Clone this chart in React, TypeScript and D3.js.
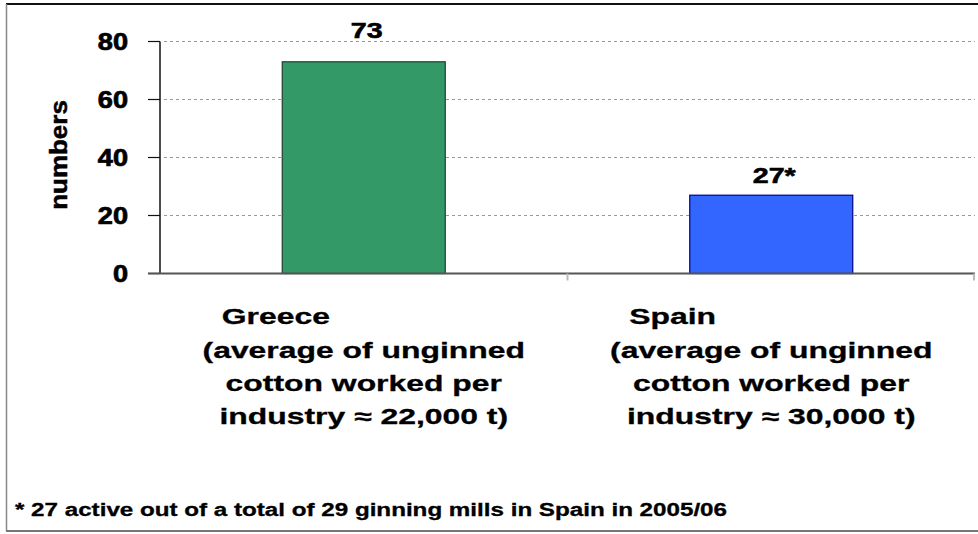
import React from "react";
import * as d3 from "d3";

const categories = ["Greece", "Spain"];
const values = [73, 27];
const valueLabels = ["73", "27*"];
const categoryNotes = [
  ["(average of unginned", "cotton worked per", "industry \u2248 22,000 t)"],
  ["(average of unginned", "cotton worked per", "industry \u2248 30,000 t)"],
];
const yTicks = [0, 20, 40, 60, 80];
const yTitle = "numbers";
const footnote = "* 27 active out of a total of 29 ginning mills in Spain in 2005/06";

const W = 978;
const H = 534;
const FONT = "'Liberation Sans', Arial, Helvetica, sans-serif";
const barColors = ["#339966", "#3366FF"];
const barStrokes = ["#1f3d2c", "#000080"];
const labelGap = [24, 12];

function SText({ x, y, sx = 1, size, anchor = "start", rotate = 0, children, fill = "#000", heavy = 0 }: any) {
  return (
    <text
      transform={`translate(${x},${y}) rotate(${rotate}) scale(${sx},1)`}
      fontFamily={FONT}
      fontWeight="bold"
      fontSize={size}
      textAnchor={anchor}
      fill={fill}
      stroke={heavy ? fill : "none"}
      strokeWidth={heavy}
    >
      {children}
    </text>
  );
}

export default function App() {
  const x0 = 160;
  const x1 = 975;
  const y = d3.scaleLinear().domain([0, 80]).range([273.5, 41.5]);
  const x = d3
    .scaleBand<string>()
    .domain(categories)
    .range([x0, x1])
    .paddingInner(0.6)
    .paddingOuter(0.3);
  const step = x.step();

  return (
    <svg
      width={W}
      height={H}
      style={{ position: "absolute", left: 0, top: 0, background: "#fff" }}
    >
      <rect x={0} y={0} width={W} height={H} fill="#fff" />
      {/* frame */}
      <line x1={6} x2={W} y1={4} y2={4} stroke="#111" strokeWidth={2} />
      <line x1={6.5} x2={6.5} y1={4} y2={531} stroke="#888" strokeWidth={1.5} />
      <line x1={6} x2={W} y1={531} y2={531} stroke="#777" strokeWidth={2} />

      {/* gridlines */}
      {yTicks
        .filter((t) => t !== 0)
        .map((t) => (
          <line
            key={"g" + t}
            x1={x0 + 4}
            x2={x1}
            y1={y(t)}
            y2={y(t)}
            stroke="#999"
            strokeWidth={1}
            strokeDasharray="3,3"
          />
        ))}

      {/* bars */}
      {categories.map((c, i) => (
        <rect
          key={c}
          x={x(c)}
          y={y(values[i])}
          width={x.bandwidth()}
          height={y(0) - y(values[i])}
          fill={barColors[i]}
          stroke={barStrokes[i]}
          strokeWidth={1.2}
        />
      ))}

      {/* value labels */}
      {categories.map((c, i) => (
        <SText
          key={"v" + c}
          x={(x(c) as number) + x.bandwidth() / 2 + 3}
          y={y(values[i]) - labelGap[i]}
          sx={1.3}
          size={22}
          anchor="middle"
          heavy={0.6}
        >
          {valueLabels[i]}
        </SText>
      ))}

      {/* y axis */}
      <line x1={x0} x2={x0} y1={y(80)} y2={y(0)} stroke="#111" strokeWidth={1.5} />
      {yTicks.map((t) => (
        <g key={"t" + t}>
          <line x1={x0 - 12} x2={x0} y1={y(t)} y2={y(t)} stroke="#111" strokeWidth={1.2} />
          <SText x={128} y={y(t) + 8.5} sx={1.18} size={23} anchor="end" heavy={0.7}>
            {String(t)}
          </SText>
        </g>
      ))}
      <SText x={67} y={155} rotate={-90} sx={1.13} size={23} anchor="middle" heavy={0.5}>
        {yTitle}
      </SText>

      {/* x axis */}
      <line x1={x0 - 12} x2={x1} y1={y(0)} y2={y(0)} stroke="#555" strokeWidth={2} />
      {[1, 2].map((k) => (
        <line
          key={"xt" + k}
          x1={x0 + step * k - (k === 2 ? 1 : 0)}
          x2={x0 + step * k - (k === 2 ? 1 : 0)}
          y1={y(0)}
          y2={y(0) + 7}
          stroke="#bbb"
          strokeWidth={2}
        />
      ))}

      {/* category labels */}
      {categories.map((c, i) => {
        const cx = (x(c) as number) + x.bandwidth() / 2;
        return (
          <g key={"c" + c}>
            <SText x={cx - 142} y={324} sx={1.45} size={22} heavy={0.3}>
              {c}
            </SText>
            {categoryNotes[i].map((line, j) => (
              <SText key={j} x={cx} y={358 + j * 33} sx={1.45} size={22} anchor="middle" heavy={0.3}>
                {line}
              </SText>
            ))}
          </g>
        );
      })}

      {/* footnote */}
      <text
        x={15}
        y={516}
        fontFamily={FONT}
        fontWeight="bold"
        fontSize={17.5}
        textLength={712}
        lengthAdjust="spacingAndGlyphs"
        fill="#000"
        stroke="#000"
        strokeWidth={0.3}
      >
        {footnote}
      </text>
    </svg>
  );
}
